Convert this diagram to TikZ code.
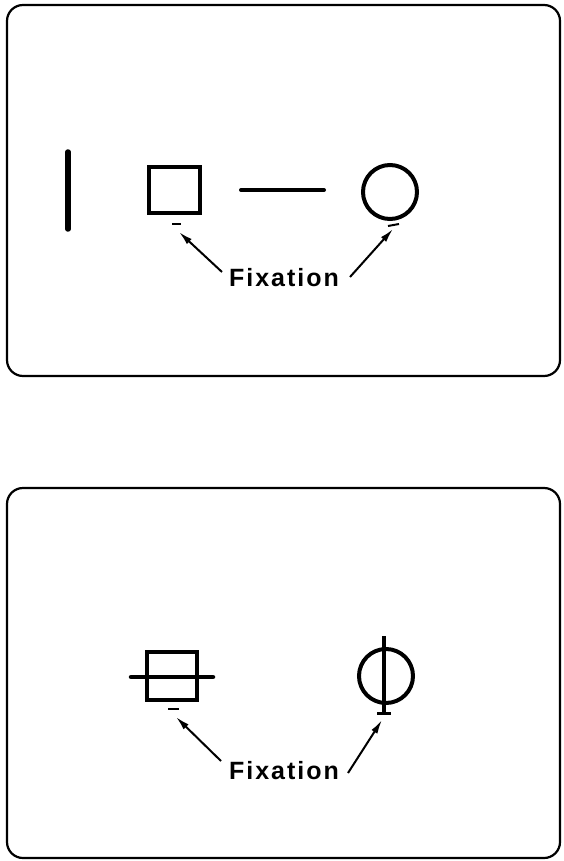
\documentclass[tikz,border=0pt]{standalone}
\usepackage{fontspec}
\setmainfont{Liberation Sans}
\newfontfamily\fixfont[LetterSpace=8]{Liberation Sans Bold}
\usetikzlibrary{arrows.meta}
\tikzset{
  frame/.style={line width=2.2pt, rounded corners=16pt},
  figline/.style={line width=4pt},
  thickbar/.style={line width=5.5pt, line cap=round},
  fixdash/.style={line width=2pt},
  pointer/.style={line width=2pt, -{Latex[length=14pt,width=7pt]}},
  fixlabel/.style={font=\fixfont\fontsize{25}{28}\selectfont, inner sep=0pt}
}
\begin{document}
\begin{tikzpicture}[x=1pt,y=-1pt]
\useasboundingbox (0,0) rectangle (563,861);
% ---- top panel ----
\draw[frame] (7,5) rectangle (560,376);
\draw[thickbar] (68,152) -- (68,229);
\draw[figline] (149,167) rectangle (200,213);
\draw[figline, line cap=round] (241,190) -- (324,190);
\draw[figline] (390,192) circle (27);
\draw[fixdash] (172,224) -- (181,224);
\draw[fixdash] (388,226) -- (399,224);
\coordinate (t1) at (179,232);
\coordinate (t2) at (393,229);
\node[fixlabel] (ftop) at (284,278) {Fixation};
\draw[pointer] (222,272) -- (t1);
\draw[pointer] (350,277) -- (t2);
% ---- bottom panel ----
\draw[frame] (7,488) rectangle (560,858);
\draw[figline, line width=3.2pt] (147,652) rectangle (197,700);
\draw[thickbar, line width=4.5pt] (131,677) -- (213,677);
\draw[figline] (386,676) circle (27);
\draw[thickbar, line width=4.5pt, line cap=butt] (384,636) -- (384,713);
\draw[thickbar, line width=3pt, line cap=butt] (377,713) -- (391,713);
\draw[fixdash] (168,709) -- (179,709);
\coordinate (b1) at (176,717);
\coordinate (b2) at (382,720);
\node[fixlabel] (fbot) at (284,771) {Fixation};
\draw[pointer] (221,761) -- (b1);
\draw[pointer] (348,773) -- (b2);
\end{tikzpicture}
\end{document}
